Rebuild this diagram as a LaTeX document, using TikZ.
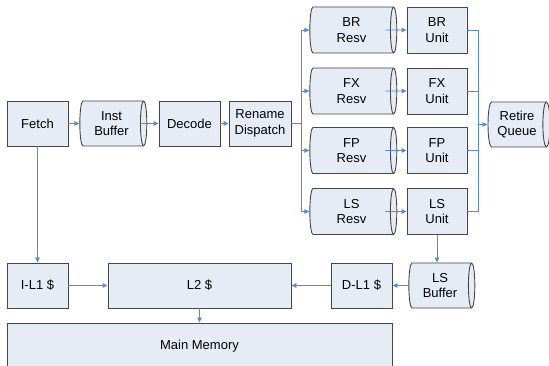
\documentclass[tikz,border=0pt]{standalone}
\usepackage{fontspec}
\setmainfont{Liberation Sans}
\usetikzlibrary{shapes.geometric,arrows.meta}
\definecolor{boxfill}{RGB}{230,236,246}
\definecolor{boxline}{RGB}{70,70,70}
\definecolor{wire}{RGB}{95,135,205}
\tikzset{
  blk/.style={draw=boxline, fill=boxfill, line width=0.9pt, align=center,
    inner sep=0pt, minimum width=61, minimum height=45,
    font=\fontsize{13}{15.5}\selectfont},
  % rotated cylinder: height runs along the axis
  que/.style={blk, cylinder, shape border rotate=0, shape aspect=0.26,
    minimum width=45, minimum height=67},
  bus/.style={draw=wire, line width=0.9pt},
  conn/.style={bus, -{Triangle[length=5pt,width=4.5pt]}}
}
\begin{document}
\begin{tikzpicture}[x=1pt, y=-1pt]
    \useasboundingbox (0,0) rectangle (549,366);
    \clip (0,0) rectangle (549,366);
    % Front end
    \node[blk] (fetch) at (37.5,123.5) {Fetch};
    \node[que] (ibuf) at (111.5,123.5) {Inst\\Buffer};
    \node[blk] (decode) at (189.5,123.5) {Decode};
    \node[blk, minimum width=62] (rename) at (260,123.5) {Rename\\Dispatch};
    \draw[conn] (fetch.east) -- (ibuf.west);
    \draw[conn] ([xshift=-7pt]ibuf.east) -- (decode.west);
    \draw[conn] (decode.east) -- (rename.west);
    % Retire
    \node[que, minimum height=62] (retire) at (517,124.5) {Retire\\Queue};
    \coordinate (join) at (478,124.5);
    % Reservation stations and units
    \foreach \name/\lbl/\y in {br/BR/30, fx/FX/91, fp/FP/150.5, ls/LS/211.5}
    {
    \node[que, minimum width=46, minimum height=87] (\name resv) at (351.5,\y) {\lbl\\Resv};
    \node[blk, minimum width=60, minimum height=46] (\name unit) at (437,\y) {\lbl\\Unit};
    \draw[conn] (rename.east) -- ++(10,0) |- (\name resv.west);
    \draw[conn] ([xshift=-12pt]\name resv.east) -- (\name unit.west);
    \draw[bus] (\name unit.east) -| (join);
    }
    \draw[conn] (join) -- (retire.west);
    % Memory side
    \node[blk] (il1) at (37.5,285.5) {I-L1 \$};
    \node[blk, minimum width=183] (l2) at (199.5,285.5) {L2 \$};
    \node[blk] (dl1) at (361.5,285.5) {D-L1 \$};
    \node[que, minimum height=66] (lsbuf) at (440,285.5) {LS\\Buffer};
    \node[blk, minimum width=385, minimum height=46] (mem) at (199.5,346) {Main Memory};
    \draw[conn] (fetch.south) -- (il1.north);
    \draw[conn] (il1.east) -- (l2.west);
    \draw[conn] (lsunit.south) -- (lsunit.south |- lsbuf.north);
    \draw[conn] (lsbuf.west) -- (dl1.east);
    \draw[conn] (dl1.west) -- (l2.east);
    \draw[conn] (l2.south) -- (mem.north);
\end{tikzpicture}
\end{document}
